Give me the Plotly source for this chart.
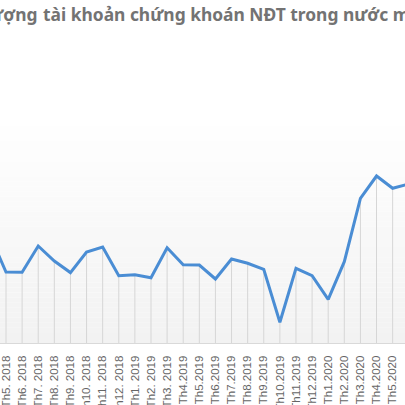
import plotly.graph_objects as go

months = ["Th4. 2018", "Th5. 2018", "Th6. 2018", "Th7. 2018", "Th8. 2018", "Th9. 2018",
          "Th10. 2018", "Th11. 2018", "Th12. 2018", "Th1. 2019", "Th2. 2019", "Th3. 2019",
          "Th4.2019", "Th5.2019", "Th6.2019", "Th7.2019", "Th8.2019", "Th9.2019",
          "Th10.2019", "Th11.2019", "Th12.2019", "Th1.2020", "Th2.2020", "Th3.2020",
          "Th4.2020", "Th5.2020", "Th6.2020"]
new_accounts = [25900, 17040, 17000, 23280, 19680, 16900,
                21840, 23040, 16150, 16390, 15670, 22870,
                18790, 18720, 15360, 20160, 19130, 17690,
                4970, 17930, 16150, 10490, 19510, 34730,
                40080, 37130, 38160]

title_left = "Số lượng"
title_right = "tài khoản chứng khoán NĐT trong nước mở mới"

W, H = 405, 405
T, B = 40, 62
plot_h = H - T - B

fig = go.Figure()

# subtle vertical gradient background (styling)
nb = 60
for i in range(nb):
    y0 = i / nb
    y1 = (i + 1) / nb
    t = max(0.0, 1 - (y0 + y1) / 2 / 0.75)
    g = int(round(255 - 13 * t))
    fig.add_shape(type="rect", xref="paper", yref="paper", x0=0, x1=1, y0=y0, y1=y1,
                  fillcolor=f"rgb({g},{g},{g})", line_width=0, layer="below")

# drop lines
fig.add_trace(go.Scatter(
    x=months, y=new_accounts, mode="markers",
    marker=dict(size=1, opacity=0),
    error_y=dict(type="data", symmetric=False, array=[0] * len(new_accounts),
                 arrayminus=new_accounts, width=0, thickness=1, color="#d6d6d6"),
    hoverinfo="skip", showlegend=False))

fig.add_trace(go.Scatter(
    x=months, y=new_accounts, mode="lines",
    line=dict(color="#4a8dd4", width=3),
    showlegend=False))

sp = 16.11
r0 = 1 - 6 / sp
r1 = r0 + W / sp

title_y = 1 + (T - 14) / plot_h

fig.update_layout(
    width=W, height=H,
    margin=dict(l=0, r=0, t=T, b=B, autoexpand=False),
    paper_bgcolor="white", plot_bgcolor="white",
    xaxis=dict(type="category", range=[r0, r1], tickangle=-90, automargin=False,
               tickfont=dict(family="Liberation Sans", size=11.5, color="#666666"),
               showgrid=False, showline=True, linecolor="#d9d9d9", linewidth=1,
               ticks="outside", ticklen=7, tickcolor="rgba(0,0,0,0)", zeroline=False),
    yaxis=dict(range=[0, plot_h * 240], visible=False, showgrid=False, zeroline=False,
               automargin=False),
    annotations=[
        dict(text=title_left, xref="paper", yref="paper", x=39 / W, y=title_y,
             xanchor="right", yanchor="middle", showarrow=False,
             font=dict(family="Noto Sans", size=17.4, color="#737373", weight="bold")),
        dict(text=title_right, xref="paper", yref="paper", x=41 / W, y=title_y,
             xanchor="left", yanchor="middle", showarrow=False,
             font=dict(family="Noto Sans", size=17.4, color="#737373", weight="bold")),
    ],
)

fig.write_html("out.html", config={"displayModeBar": False, "staticPlot": True},
               post_script="document.body.style.margin='0px';document.body.style.overflow='hidden';")
